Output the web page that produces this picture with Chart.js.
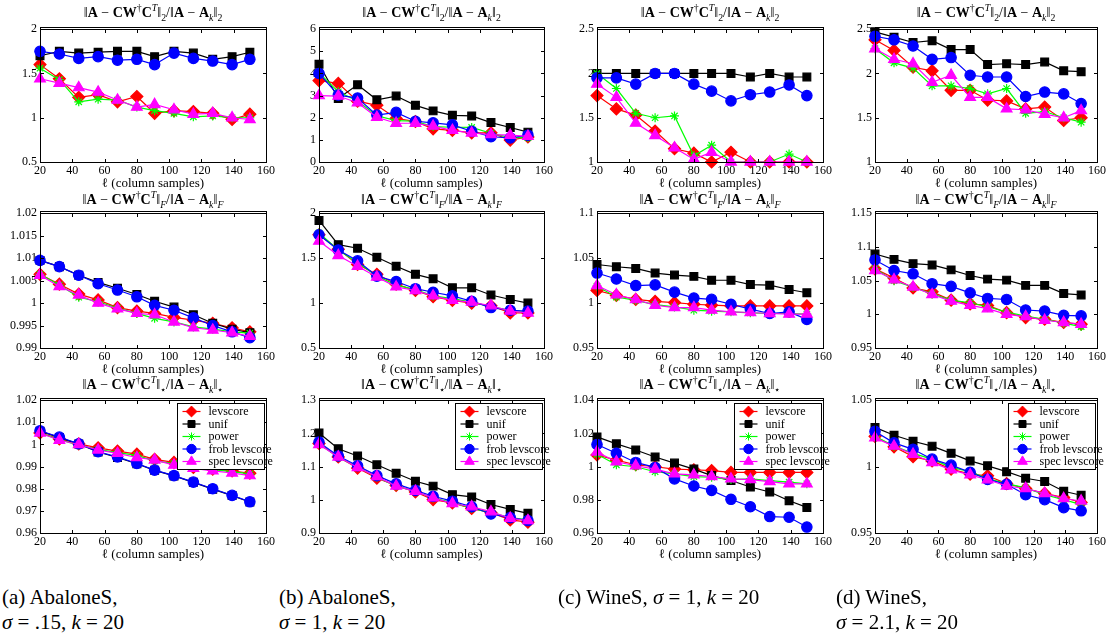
<!DOCTYPE html>
<html>
<head>
<meta charset="utf-8">
<script src="https://cdn.jsdelivr.net/npm/chart.js@4.4.0/dist/chart.umd.min.js"></script>
<style>
body{margin:0;background:#fff;width:1116px;height:635px;position:relative;overflow:hidden;font-family:"Liberation Serif","DejaVu Serif",serif;color:#000}
.ttl{position:absolute;font-size:14px;white-space:nowrap;transform:translate(-50%,-50%)}
.ttl sup,.ttl sub{font-size:70%;line-height:0}
.cap{position:absolute;font-size:21px;line-height:25px;white-space:nowrap}
.frm{position:absolute;border:1px solid #000;box-sizing:border-box;pointer-events:none}
</style>
</head>
<body>
<script>
// x positions (column samples)
const xVals=[20,32,44,56,68,80,91,103,115,127,139,150];
const xTicks=[20,40,60,80,100,120,140,160];
const seriesNames=['levscore','unif','power','frob levscore','spec levscore'];

// row 1: spectral norm ratio
const specA_lev=[1.60,1.44,1.23,1.26,1.18,1.24,1.05,1.08,1.07,1.05,0.98,1.04];
const specA_unif=[1.70,1.75,1.73,1.74,1.75,1.75,1.69,1.75,1.73,1.66,1.69,1.74];
const specA_pow=[1.56,1.43,1.18,1.21,1.20,1.12,1.08,1.05,1.01,1.02,1.00,1.00];
const specA_frob=[1.75,1.72,1.67,1.69,1.65,1.66,1.60,1.73,1.67,1.64,1.60,1.66];
const specA_spec=[1.44,1.39,1.34,1.29,1.20,1.12,1.15,1.09,1.04,1.05,1.00,0.98];
const specA_ticks=[0.5,1,1.5,2];

const specB_lev=[3.68,3.55,2.75,2.56,1.97,1.83,1.50,1.43,1.32,1.32,0.99,1.13];
const specB_unif=[4.42,2.87,3.49,2.81,2.98,2.56,2.31,2.11,2.08,1.78,1.56,1.35];
const specB_pow=[4.04,3.17,2.76,2.09,1.87,1.84,1.60,1.57,1.56,1.30,1.10,1.10];
const specB_frob=[4.00,3.02,2.89,2.12,2.24,1.84,1.77,1.68,1.39,1.14,1.09,1.21];
const specB_spec=[3.00,2.98,2.68,2.02,1.75,1.75,1.62,1.43,1.31,1.24,1.21,1.16];
const specB_ticks=[0,1,2,3,4,5,6];

const specC_lev=[1.75,1.60,1.53,1.35,1.15,1.10,1.00,1.11,1.00,1.00,1.00,1.00];
const specC_unif=[2.00,2.00,2.00,2.00,2.00,2.00,2.00,2.00,1.96,2.00,1.96,1.96];
const specC_pow=[2.00,1.83,1.55,1.50,1.52,1.07,1.19,1.00,1.00,1.00,1.09,1.00];
const specC_frob=[1.95,1.95,1.88,2.00,2.00,1.88,1.80,1.69,1.76,1.79,1.87,1.75];
const specC_spec=[1.88,1.73,1.44,1.30,1.16,1.03,1.11,1.00,1.00,1.00,1.00,1.00];
const specC_ticks=[1,1.5,2,2.5];

const specD_lev=[2.38,2.26,2.07,2.03,1.81,1.81,1.70,1.69,1.60,1.62,1.47,1.50];
const specD_unif=[2.47,2.41,2.35,2.37,2.27,2.27,2.10,2.11,2.10,2.13,2.03,2.02];
const specD_pow=[2.28,2.12,2.06,1.86,1.86,1.83,1.77,1.83,1.55,1.57,1.50,1.45];
const specD_frob=[2.42,2.38,2.31,2.16,2.18,1.98,1.96,1.96,1.74,1.79,1.77,1.66];
const specD_spec=[2.28,2.16,2.11,1.90,1.98,1.73,1.73,1.60,1.59,1.54,1.50,1.58];
const specD_ticks=[1,1.5,2,2.5];

// row 2: Frobenius norm ratio
const frobA_lev=[1.0064,1.0042,1.0020,1.0007,0.9990,0.9982,0.9977,0.9968,0.9962,0.9955,0.9945,0.9936];
const frobA_unif=[1.0095,1.0081,1.0062,1.0046,1.0033,1.0019,1.0004,0.9991,0.9974,0.9955,0.9942,0.9934];
const frobA_pow=[1.0064,1.0040,1.0013,1.0003,0.9989,0.9977,0.9966,0.9958,0.9947,0.9942,0.9936,0.9933];
const frobA_frob=[1.0095,1.0081,1.0062,1.0043,1.0029,1.0014,0.9995,0.9984,0.9967,0.9950,0.9936,0.9923];
const frobA_spec=[1.0062,1.0037,1.0018,1.0000,0.9987,0.9977,0.9974,0.9958,0.9945,0.9940,0.9934,0.9926];
const frobA_ticks=[0.99,0.995,1,1.005,1.01,1.015,1.02];

const frobB_lev=[1.76,1.60,1.43,1.32,1.21,1.14,1.07,1.03,1.00,0.97,0.89,0.89];
const frobB_unif=[1.92,1.65,1.61,1.51,1.41,1.32,1.27,1.17,1.17,1.09,1.04,1.00];
const frobB_pow=[1.78,1.59,1.45,1.30,1.20,1.15,1.08,1.05,1.01,0.96,0.92,0.90];
const frobB_frob=[1.76,1.59,1.47,1.30,1.24,1.16,1.12,1.08,1.02,0.95,0.92,0.91];
const frobB_spec=[1.69,1.53,1.41,1.29,1.18,1.14,1.08,1.03,1.01,0.97,0.91,0.89];
const frobB_ticks=[0.5,1,1.5,2];

const frobC_lev=[1.0140,1.0085,1.0041,1.0019,1.0005,0.9987,0.9976,0.9968,0.9968,0.9968,0.9968,0.9968];
const frobC_unif=[1.0429,1.0404,1.0385,1.0334,1.0312,1.0297,1.0254,1.0254,1.0206,1.0199,1.0151,1.0115];
const frobC_pow=[1.0188,1.0067,1.0030,0.9983,0.9957,0.9921,0.9910,0.9902,0.9891,0.9884,0.9884,0.9877];
const frobC_frob=[1.0334,1.0268,1.0195,1.0202,1.0122,1.0056,1.0041,0.9987,0.9932,0.9884,0.9902,0.9818];
const frobC_spec=[1.0195,1.0093,1.0038,0.9976,0.9950,0.9950,0.9921,0.9902,0.9895,0.9884,0.9877,0.9877];
const frobC_ticks=[0.95,1,1.05,1.1];

const frobD_lev=[1.0674,1.0538,1.0391,1.0333,1.0210,1.0156,1.0132,1.0024,0.9951,0.9927,0.9878,0.9853];
const frobD_unif=[1.0894,1.0815,1.0752,1.0732,1.0659,1.0576,1.0522,1.0507,1.0429,1.0429,1.0307,1.0287];
const frobD_pow=[1.0674,1.0498,1.0401,1.0303,1.0210,1.0171,1.0112,1.0034,0.9974,0.9927,0.9868,0.9818];
const frobD_frob=[1.0806,1.0650,1.0601,1.0454,1.0415,1.0318,1.0235,1.0220,1.0064,1.0048,0.9985,0.9976];
const frobD_spec=[1.0650,1.0513,1.0405,1.0293,1.0196,1.0132,1.0083,1.0000,0.9966,0.9912,0.9878,0.9853];
const frobD_ticks=[0.95,1,1.05,1.1,1.15];

// row 3: nuclear (trace) norm ratio
const nucA_lev=[1.0052,1.0025,1.0003,0.9985,0.9970,0.9956,0.9933,0.9919,0.9896,0.9889,0.9881,0.9870];
const nucA_unif=[1.0060,1.0031,1.0002,0.9966,0.9941,0.9913,0.9883,0.9858,0.9829,0.9798,0.9769,0.9740];
const nucA_pow=[1.0052,1.0022,0.9997,0.9978,0.9963,0.9951,0.9926,0.9914,0.9899,0.9886,0.9877,0.9867];
const nucA_frob=[1.0062,1.0033,1.0003,0.9967,0.9944,0.9914,0.9884,0.9859,0.9830,0.9800,0.9770,0.9741];
const nucA_spec=[1.0052,1.0019,1.0000,0.9975,0.9960,0.9941,0.9930,0.9907,0.9892,0.9881,0.9871,0.9859];
const nucA_ticks=[0.96,0.97,0.98,0.99,1,1.01,1.02];

const nucB_lev=[1.1696,1.1291,1.0956,1.0649,1.0432,1.0235,1.0007,0.9909,0.9741,0.9612,0.9395,0.9326];
const nucB_unif=[1.2012,1.1538,1.1321,1.1054,1.0798,1.0560,1.0412,1.0156,1.0086,0.9859,0.9711,0.9593];
const nucB_pow=[1.1696,1.1272,1.0995,1.0679,1.0412,1.0254,1.0057,0.9919,0.9741,0.9612,0.9464,0.9395];
const nucB_frob=[1.1736,1.1321,1.1025,1.0728,1.0481,1.0284,1.0106,0.9958,0.9790,0.9573,0.9464,0.9375];
const nucB_spec=[1.1667,1.1291,1.0975,1.0699,1.0412,1.0254,1.0057,0.9889,0.9790,0.9642,0.9444,0.9375];
const nucB_ticks=[0.9,1,1.1,1.2,1.3];

const nucC_lev=[1.0070,1.0039,1.0011,0.9999,0.9985,0.9981,0.9976,0.9965,0.9965,0.9965,0.9965,0.9965];
const nucC_unif=[1.0179,1.0137,1.0100,1.0058,1.0021,0.9985,0.9946,0.9916,0.9877,0.9847,0.9794,0.9754];
const nucC_pow=[1.0074,1.0011,0.9999,0.9969,0.9956,0.9940,0.9936,0.9922,0.9926,0.9916,0.9906,0.9896];
const nucC_frob=[1.0133,1.0080,1.0025,0.9995,0.9926,0.9883,0.9857,0.9803,0.9758,0.9699,0.9695,0.9636];
const nucC_spec=[1.0088,1.0029,1.0005,0.9985,0.9956,0.9950,0.9940,0.9926,0.9922,0.9910,0.9896,0.9896];
const nucC_ticks=[0.96,0.98,1,1.02,1.04];

const nucD_lev=[1.0228,1.0149,1.0075,1.0043,0.9981,0.9944,0.9931,0.9872,0.9835,0.9798,0.9767,0.9730];
const nucD_unif=[1.0295,1.0236,1.0191,1.0154,1.0100,1.0043,1.0006,0.9962,0.9912,0.9888,0.9814,0.9784];
const nucD_pow=[1.0228,1.0154,1.0100,1.0056,0.9994,0.9962,0.9909,0.9872,0.9840,0.9788,0.9751,0.9714];
const nucD_frob=[1.0265,1.0179,1.0130,1.0056,1.0011,0.9957,0.9904,0.9867,0.9788,0.9751,0.9691,0.9667];
const nucD_spec=[1.0216,1.0154,1.0093,1.0031,0.9975,0.9938,0.9901,0.9854,0.9835,0.9798,0.9760,0.9741];
const nucD_ticks=[0.95,1,1.05];

// layout of the plot boxes (px)
const cols=[[40,266],[319,544],[597,823],[875,1097]];
const rows=[[27,162],[211,348],[398,533]];
const titleY=[13,200,385];
const normSub=['2','<i>F</i>','⋆'];

const styles=[
  {color:'#ff0000',point:'rectRot',r:6},
  {color:'#000000',point:'rect',r:5.5},
  {color:'#00ff00',point:'star',r:4.5},
  {color:'#0000ff',point:'circle',r:5.2},
  {color:'#ff00ff',point:'triangle',r:6.2}
];

const panels=[
  {row:0,col:0,s:[specA_lev,specA_unif,specA_pow,specA_frob,specA_spec],t:specA_ticks},
  {row:0,col:1,s:[specB_lev,specB_unif,specB_pow,specB_frob,specB_spec],t:specB_ticks},
  {row:0,col:2,s:[specC_lev,specC_unif,specC_pow,specC_frob,specC_spec],t:specC_ticks},
  {row:0,col:3,s:[specD_lev,specD_unif,specD_pow,specD_frob,specD_spec],t:specD_ticks},
  {row:1,col:0,s:[frobA_lev,frobA_unif,frobA_pow,frobA_frob,frobA_spec],t:frobA_ticks},
  {row:1,col:1,s:[frobB_lev,frobB_unif,frobB_pow,frobB_frob,frobB_spec],t:frobB_ticks},
  {row:1,col:2,s:[frobC_lev,frobC_unif,frobC_pow,frobC_frob,frobC_spec],t:frobC_ticks},
  {row:1,col:3,s:[frobD_lev,frobD_unif,frobD_pow,frobD_frob,frobD_spec],t:frobD_ticks},
  {row:2,col:0,s:[nucA_lev,nucA_unif,nucA_pow,nucA_frob,nucA_spec],t:nucA_ticks},
  {row:2,col:1,s:[nucB_lev,nucB_unif,nucB_pow,nucB_frob,nucB_spec],t:nucB_ticks},
  {row:2,col:2,s:[nucC_lev,nucC_unif,nucC_pow,nucC_frob,nucC_spec],t:nucC_ticks},
  {row:2,col:3,s:[nucD_lev,nucD_unif,nucD_pow,nucD_frob,nucD_spec],t:nucD_ticks}
];

const serif="'Liberation Serif', 'DejaVu Serif', serif";

// matlab style inward tick marks on all four sides
const tickMarks={
  id:'tickMarks',
  afterDraw(chart){
    const ctx=chart.ctx,a=chart.chartArea;
    const sx=chart.scales.x,sy=chart.scales.y;
    const l=Math.round(a.left),r=Math.round(a.right),t=Math.round(a.top),b=Math.round(a.bottom);
    ctx.save();
    ctx.fillStyle='#000';
    ctx.fillRect(l,t,r-l+1,1);
    ctx.fillRect(l,b,r-l+1,1);
    ctx.fillRect(l,t,1,b-t+1);
    ctx.fillRect(r,t,1,b-t+1);
    sx.ticks.forEach(tk=>{
      const px=Math.round(sx.getPixelForValue(tk.value));
      ctx.fillRect(px,b-3,1,3);
      ctx.fillRect(px,t+1,1,3);
    });
    sy.ticks.forEach(tk=>{
      const py=Math.round(sy.getPixelForValue(tk.value));
      ctx.fillRect(l+1,py,3,1);
      ctx.fillRect(r-3,py,3,1);
    });
    ctx.restore();
  }
};

// legend box inside the axes, top right (bottom row only)
const boxLegend={
  id:'boxLegend',
  afterDraw(chart){
    if(chart.canvas.dataset.legend!=='1') return;
    const ctx=chart.ctx,a=chart.chartArea;
    const w=87,h=66;
    const left=Math.round(a.right-2-w)+0.5,top=Math.round(a.top+3)+0.5;
    ctx.save();
    ctx.fillStyle='#fff';
    ctx.fillRect(left,top,w,h);
    ctx.strokeStyle='#000';ctx.lineWidth=1;
    ctx.strokeRect(left,top,w,h);
    ctx.font='12px '+serif;
    ctx.textBaseline='middle';
    chart.data.datasets.forEach((ds,i)=>{
      const st=styles[i];
      const y=top+8+i*12.5;
      ctx.strokeStyle=st.color;ctx.lineWidth=1.2;
      ctx.beginPath();ctx.moveTo(left+5,y);ctx.lineTo(left+23,y);ctx.stroke();
      ctx.fillStyle=st.color;ctx.lineWidth=1;
      Chart.helpers.drawPoint(ctx,{pointStyle:st.point,radius:st.r*0.9,rotation:0,borderWidth:1},left+14,y);
      ctx.fillStyle='#000';
      ctx.fillText(ds.label,left+31,y+0.5);
    });
    ctx.restore();
  }
};

const padL=46,padT=8,padR=14,padB=32;
const charts=[];

panels.forEach(p=>{
  const [L,R]=cols[p.col],[T,B]=rows[p.row];
  const cv=document.createElement('canvas');
  cv.width=R-L+padL+padR;cv.height=B-T+padT+padB;
  cv.style.cssText='position:absolute;left:'+(L-padL)+'px;top:'+(T-padT)+'px';
  cv.dataset.legend=p.row===2?'1':'0';
  document.body.appendChild(cv);

  const datasets=seriesNames.map((name,i)=>({
    label:name,
    data:xVals.map((x,j)=>({x:x,y:p.s[i][j]})),
    borderColor:styles[i].color,
    backgroundColor:styles[i].color,
    pointStyle:styles[i].point,
    pointRadius:styles[i].r,
    borderWidth:1.2,
    clip:false,
    order:5-i
  }));

  charts.push(new Chart(cv,{
    type:'line',
    data:{datasets:datasets},
    plugins:[tickMarks,boxLegend],
    options:{
      responsive:false,
      animation:false,
      layout:{padding:{left:0,top:padT,right:padR,bottom:0}},
      plugins:{legend:{display:false},tooltip:{enabled:false}},
      scales:{
        x:{
          type:'linear',min:20,max:160,
          grid:{display:false,drawTicks:false},
          border:{display:true,color:'#000'},
          afterBuildTicks:sc=>{sc.ticks=xTicks.map(v=>({value:v}));},
          afterFit:sc=>{sc.height=padB;},
          ticks:{color:'#000',padding:2,font:{family:serif,size:12}},
          title:{display:true,text:'ℓ (column samples)',color:'#000',padding:{top:0,bottom:3},font:{family:serif,size:13}}
        },
        y:{
          type:'linear',min:p.t[0],max:p.t[p.t.length-1],
          grid:{display:false,drawTicks:false},
          border:{display:true,color:'#000'},
          afterBuildTicks:sc=>{sc.ticks=p.t.map(v=>({value:v}));},
          afterFit:sc=>{sc.width=padL;},
          ticks:{color:'#000',padding:3,callback:v=>String(v),font:{family:serif,size:12}}
        }
      }
    }
  }));

  // axes box outline (same place as the canvas frame)
  const fr=document.createElement('div');
  fr.className='frm';
  fr.style.cssText='left:'+L+'px;top:'+T+'px;width:'+(R-L+1)+'px;height:'+(B-T+1)+'px';
  document.body.appendChild(fr);

  const tt=document.createElement('div');
  tt.className='ttl';
  tt.style.left=((L+R)/2)+'px';
  tt.style.top=titleY[p.row]+'px';
  const n=normSub[p.row];
  tt.innerHTML='‖<b>A</b> − <b>CW</b><sup>†</sup><b>C</b><sup><i>T</i></sup>‖<sub>'+n+'</sub>/‖<b>A</b> − <b>A</b><sub><i>k</i></sub>‖<sub>'+n+'</sub>';
  document.body.appendChild(tt);
});

// sub-figure captions
const captions=[
  {x:2,html:'(a) AbaloneS,<br><i>σ</i> = .15, <i>k</i> = 20'},
  {x:279,html:'(b) AbaloneS,<br><i>σ</i> = 1, <i>k</i> = 20'},
  {x:558,html:'(c) WineS, <i>σ</i> = 1, <i>k</i> = 20'},
  {x:836,html:'(d) WineS,<br><i>σ</i> = 2.1, <i>k</i> = 20'}
];
captions.forEach(c=>{
  const d=document.createElement('div');
  d.className='cap';
  d.style.left=c.x+'px';d.style.top='585px';
  d.innerHTML=c.html;
  document.body.appendChild(d);
});
</script>
</body>
</html>
